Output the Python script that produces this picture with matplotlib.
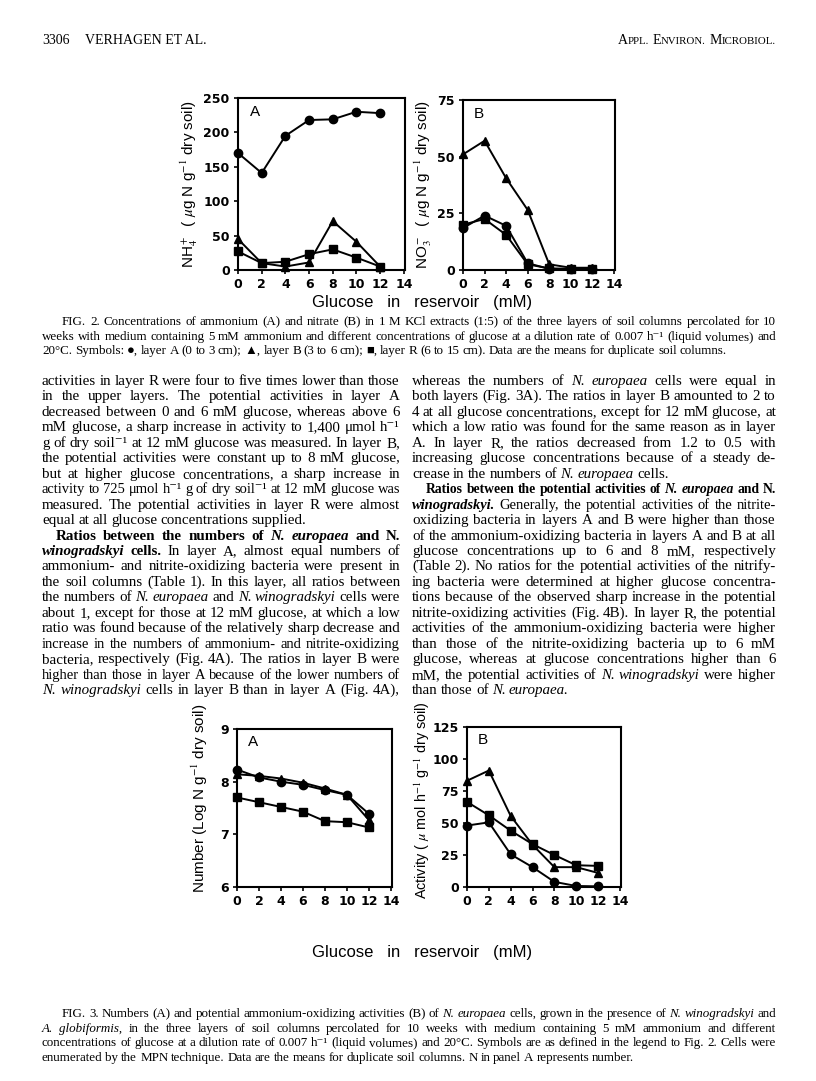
import matplotlib
matplotlib.use("Agg")
import matplotlib.pyplot as plt

plt.rcParams['mathtext.fontset'] = 'stix'

W, H = 816, 1081
fig = plt.figure(figsize=(W / 100, H / 100), dpi=100)
renderer = fig.canvas.get_renderer()

# data
glucose = [0, 2, 4, 6, 8, 10, 12]

nh4_A = [170, 141, 195, 218, 219, 230, 228]
nh4_B = [45, 10, 5, 11, 71, 41, 5]
nh4_R = [27, 10, 12, 23, 30, 18, 5]

no3_A = [18.5, 24, 19.5, 3, 0.5, 0.5, 0.5]
no3_B = [51, 57, 40.5, 26.5, 2.5, 1, 1]
no3_R = [20, 22.5, 15.5, 2.5, 0.7, 0.5, 0.5]

logn_A = [8.23, 8.08, 8.0, 7.94, 7.84, 7.75, 7.39]
logn_B = [8.14, 8.11, 8.06, 7.98, 7.87, 7.75, 7.27]
logn_R = [7.70, 7.61, 7.52, 7.43, 7.25, 7.23, 7.13]

act_A = [48, 50.5, 25.5, 15.5, 4, 0.8, 0.5]
act_B = [83, 91, 55.5, 33, 15.5, 15.5, 11]
act_R = [66.5, 56, 44, 33.5, 25, 17, 16.5]

xticks = [0, 2, 4, 6, 8, 10, 12, 14]

TICKFONT = ['DejaVu Sans']
LABFONT = ['Liberation Sans', 'DejaVu Sans']
SERIF = ['Liberation Serif', 'DejaVu Serif']


def px_axes(l, t, r, b):
    return fig.add_axes([l / W, 1 - b / H, (r - l) / W, (b - t) / H])


def panel(ax, series, ylim, yticks, letter, ylabel, lab_x, lab_y=0.5, lab_size=11):
    for y, m in zip(series, ['o', '^', 's']):
        ax.plot(glucose, y, color='black', lw=1.4, marker=m, ms=6, clip_on=False, zorder=3)
    ax.set_xlim(0, 14.1)
    ax.set_ylim(*ylim)
    ax.set_xticks(xticks)
    ax.set_yticks(yticks)
    for s in ax.spines.values():
        s.set_linewidth(1.5)
    ax.tick_params(direction='out', length=3, width=1.2, pad=3)
    for lab in ax.get_xticklabels() + ax.get_yticklabels():
        lab.set_fontweight('bold')
        lab.set_fontsize(9)
        lab.set_family(TICKFONT)
    ax.text(0.07, 0.96, letter, transform=ax.transAxes, ha='left', va='top', fontsize=11, family=LABFONT)
    ax.set_ylabel(ylabel, fontsize=lab_size, family=LABFONT)
    ax.yaxis.set_label_coords(lab_x, lab_y)


# ---- Fig. 2 ----
ax = px_axes(238, 98, 405, 270)
panel(ax, [nh4_A, nh4_B, nh4_R], (0, 250), [0, 50, 100, 150, 200, 250], 'A',
      r'NH$_4^+$  ( $\mu$g N g$^{-1}$ dry soil)', -0.23)
ax = px_axes(463, 100, 615, 270)
panel(ax, [no3_A, no3_B, no3_R], (0, 75), [0, 25, 50, 75], 'B',
      r'NO$_3^-$  ( $\mu$g N g$^{-1}$ dry soil)', -0.19)
fig.text(422 / W, 1 - 303 / H, 'Glucose   in   reservoir   (mM)', ha='center', va='center',
         fontsize=12, family=LABFONT)

# ---- Fig. 3 ----
ax = px_axes(237, 729, 392, 887)
panel(ax, [logn_A, logn_B, logn_R], (6, 9), [6, 7, 8, 9], 'A',
      r'Number (Log N g$^{-1}$ dry soil)', -0.175, 0.56)
ax = px_axes(467, 727, 621, 887)
panel(ax, [act_A, act_B, act_R], (0, 125), [0, 25, 50, 75, 100, 125], 'B',
      r'Activity ( $\mu$ mol h$^{-1}$ g$^{-1}$ dry soil)', -0.225, 0.545, 10.4)
fig.text(422 / W, 1 - 952 / H, 'Glucose   in   reservoir   (mM)', ha='center', va='center',
         fontsize=12, family=LABFONT)


# ---- text helpers ----
def put_line(line, x0, x1, y, size, indent=14):
    justify = True
    if line.endswith('¶'):
        justify = False
        line = line[:-1]
    if line.startswith('>'):
        x0 += indent
        line = line[1:]
    toks = []
    for tok in line.split():
        weight, style = 'normal', 'normal'
        if tok.startswith('#'):
            weight = 'bold'
            tok = tok[1:]
        if tok.startswith('_'):
            style = 'italic'
            tok = tok[1:]
        toks.append((tok, weight, style))
    y = round(y)
    while True:
        words = [fig.text(x0 / W, 1 - y / H, s, fontsize=size, family=SERIF,
                          weight=wt, style=st, va='baseline') for s, wt, st in toks]
        widths = [t.get_window_extent(renderer).width for t in words]
        space = size * 0.22 * 100 / 72
        if sum(widths) + space * (len(words) - 1) <= x1 - x0 or size < 5:
            break
        for t in words:
            t.remove()
        size *= 0.97
    gap = space
    if justify and len(words) > 1:
        gap = (x1 - x0 - sum(widths)) / (len(words) - 1)
    x = x0
    for t, wd in zip(words, widths):
        t.set_x(x / W)
        x += wd + gap


def put_block(lines, x0, x1, y0, step, size, indent=14):
    for i, line in enumerate(lines):
        put_line(line, x0, x1, y0 + i * step, size, indent)


def small_caps(words, x_right, y, size):
    parts = []
    for w in words:
        parts.append((w[0], size))
        parts.append((w[1:].upper(), size * 0.78))
        parts.append((' ', size))
    parts = parts[:-1]
    texts = [fig.text(0, 1 - y / H, s, fontsize=sz, family=SERIF, va='baseline') for s, sz in parts]
    widths = []
    for t, (s, sz) in zip(texts, parts):
        widths.append(sz * 0.25 * 100 / 72 if s == ' ' else t.get_window_extent(renderer).width)
    x = x_right - sum(widths)
    for t, wd in zip(texts, widths):
        t.set_x(x / W)
        x += wd


# header
fig.text(42 / W, 1 - 44 / H, '3306', fontsize=10, family=SERIF, va='baseline')
fig.text(85 / W, 1 - 44 / H, 'VERHAGEN ET AL.', fontsize=10, family=SERIF, va='baseline')
small_caps(['Appl.', 'Environ.', 'Microbiol.'], 776, 44, 10)

cap2 = [
    ">FIG. 2. Concentrations of ammonium (A) and nitrate (B) in 1 M KCl extracts (1:5) of the three layers of soil columns percolated for 10",
    "weeks with medium containing 5 mM ammonium and different concentrations of glucose at a dilution rate of 0.007 h⁻¹ (liquid volumes) and",
    "20°C. Symbols: ●, layer A (0 to 3 cm); ▲, layer B (3 to 6 cm); ■, layer R (6 to 15 cm). Data are the means for duplicate soil columns.¶",
]
put_block(cap2, 42, 776, 325, 14.6, 9.4, indent=20)

left_col = [
    "activities in layer R were four to five times lower than those",
    "in the upper layers. The potential activities in layer A",
    "decreased between 0 and 6 mM glucose, whereas above 6",
    "mM glucose, a sharp increase in activity to 1,400 μmol h⁻¹",
    "g of dry soil⁻¹ at 12 mM glucose was measured. In layer B,",
    "the potential activities were constant up to 8 mM glucose,",
    "but at higher glucose concentrations, a sharp increase in",
    "activity to 725 μmol h⁻¹ g of dry soil⁻¹ at 12 mM glucose was",
    "measured. The potential activities in layer R were almost",
    "equal at all glucose concentrations supplied.¶",
    ">#Ratios #between #the #numbers #of #_N. #_europaea #and #N.",
    "#_winogradskyi #cells. In layer A, almost equal numbers of",
    "ammonium- and nitrite-oxidizing bacteria were present in",
    "the soil columns (Table 1). In this layer, all ratios between",
    "the numbers of _N. _europaea and _N. _winogradskyi cells were",
    "about 1, except for those at 12 mM glucose, at which a low",
    "ratio was found because of the relatively sharp decrease and",
    "increase in the numbers of ammonium- and nitrite-oxidizing",
    "bacteria, respectively (Fig. 4A). The ratios in layer B were",
    "higher than those in layer A because of the lower numbers of",
    "_N. _winogradskyi cells in layer B than in layer A (Fig. 4A),",
]
right_col = [
    "whereas the numbers of _N. _europaea cells were equal in",
    "both layers (Fig. 3A). The ratios in layer B amounted to 2 to",
    "4 at all glucose concentrations, except for 12 mM glucose, at",
    "which a low ratio was found for the same reason as in layer",
    "A. In layer R, the ratios decreased from 1.2 to 0.5 with",
    "increasing glucose concentrations because of a steady de-",
    "crease in the numbers of _N. _europaea cells.¶",
    ">#Ratios #between #the #potential #activities #of #_N. #_europaea #and #N.",
    "#_winogradskyi. Generally, the potential activities of the nitrite-",
    "oxidizing bacteria in layers A and B were higher than those",
    "of the ammonium-oxidizing bacteria in layers A and B at all",
    "glucose concentrations up to 6 and 8 mM, respectively",
    "(Table 2). No ratios for the potential activities of the nitrify-",
    "ing bacteria were determined at higher glucose concentra-",
    "tions because of the observed sharp increase in the potential",
    "nitrite-oxidizing activities (Fig. 4B). In layer R, the potential",
    "activities of the ammonium-oxidizing bacteria were higher",
    "than those of the nitrite-oxidizing bacteria up to 6 mM",
    "glucose, whereas at glucose concentrations higher than 6",
    "mM, the potential activities of _N. _winogradskyi were higher",
    "than those of _N. _europaea.¶",
]
put_block(left_col, 42, 400, 385, 15.45, 10.8)
put_block(right_col, 412, 776, 385, 15.45, 10.8)

cap3 = [
    ">FIG. 3. Numbers (A) and potential ammonium-oxidizing activities (B) of _N. _europaea cells, grown in the presence of _N. _winogradskyi and",
    "_A. _globiformis, in the three layers of soil columns percolated for 10 weeks with medium containing 5 mM ammonium and different",
    "concentrations of glucose at a dilution rate of 0.007 h⁻¹ (liquid volumes) and 20°C. Symbols are as defined in the legend to Fig. 2. Cells were",
    "enumerated by the MPN technique. Data are the means for duplicate soil columns. N in panel A represents number.¶",
]
put_block(cap3, 42, 776, 1017, 14.6, 9.4, indent=20)

fig.savefig('out.png', dpi=100)
